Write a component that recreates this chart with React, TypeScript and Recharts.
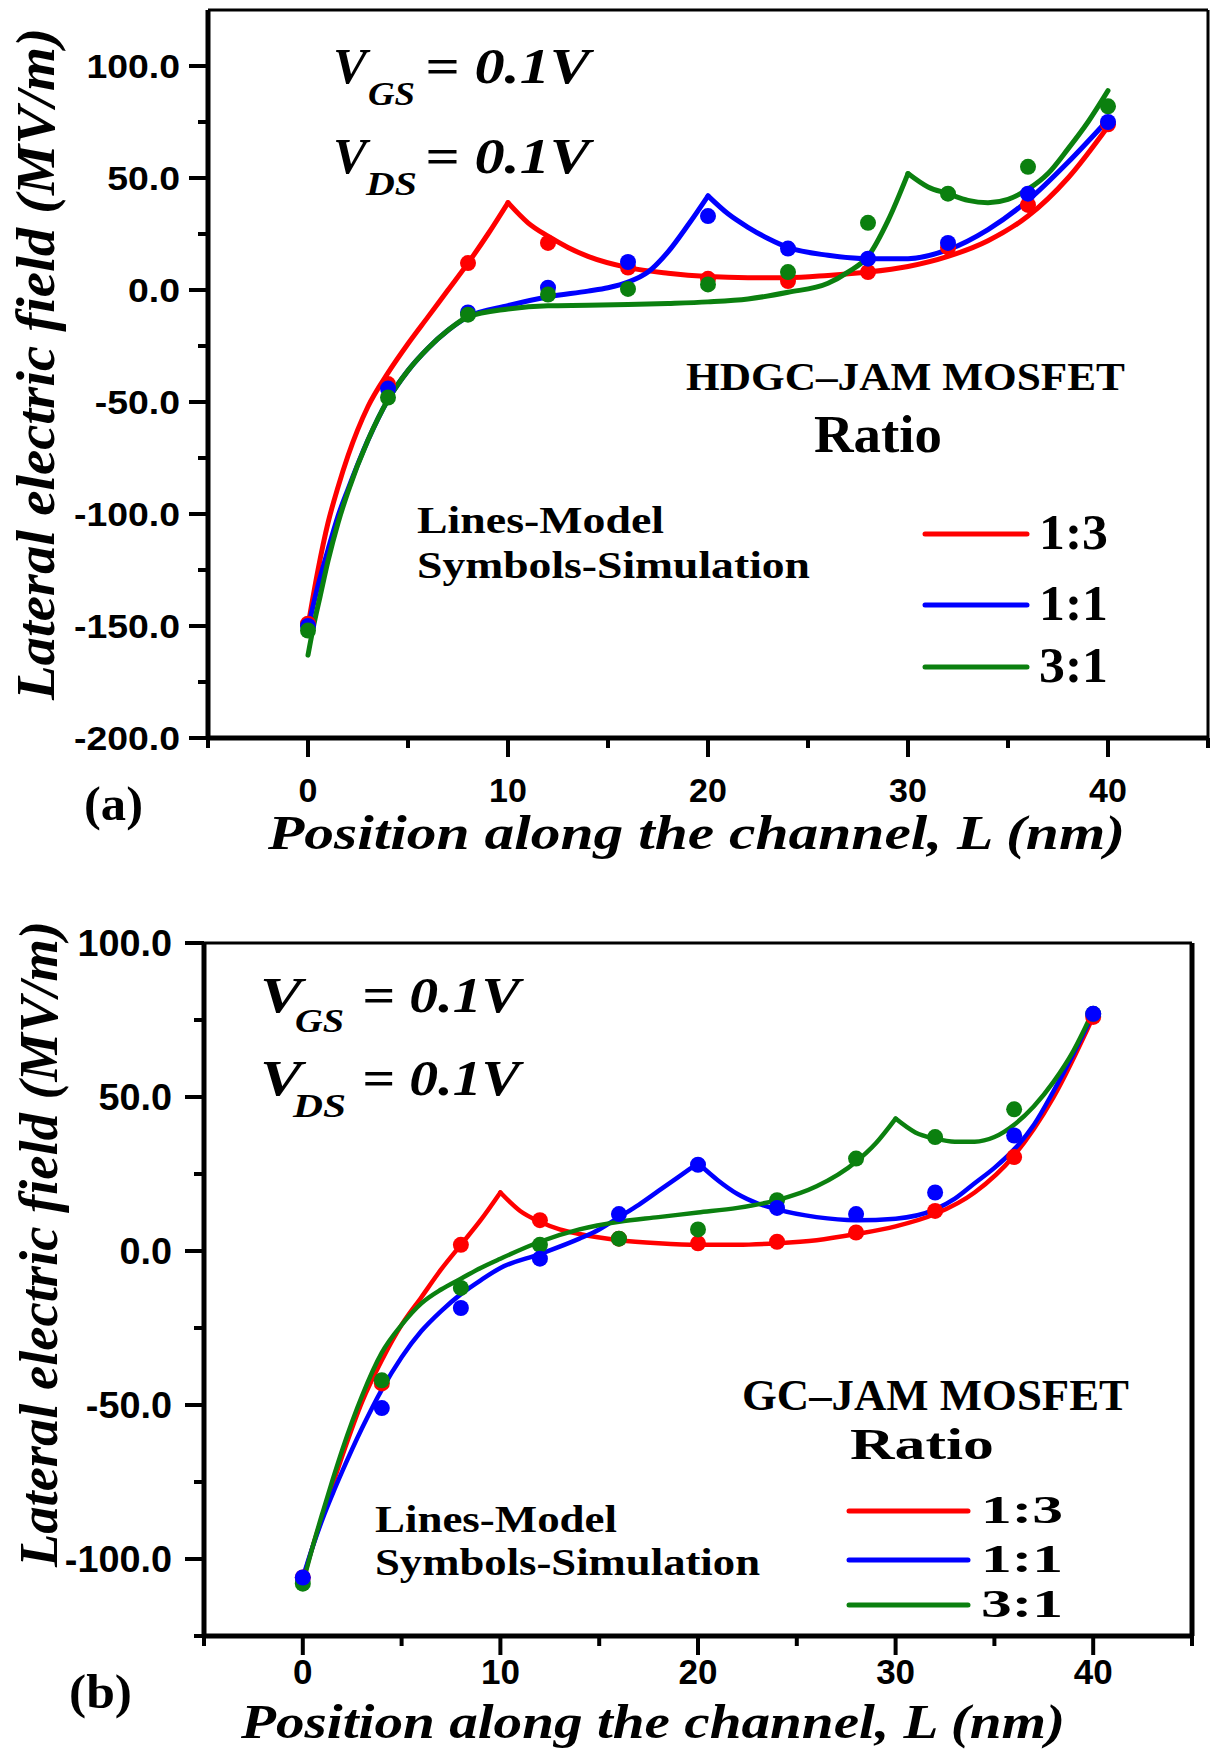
import React from "react";
import {
  ComposedChart,
  Line,
  Scatter,
  XAxis,
  YAxis,
  ReferenceLine,
  Customized,
} from "recharts";

const SERIF = '"Liberation Serif", "Times New Roman", serif';
const SANS = '"Liberation Sans", Arial, sans-serif';

const RED = "#ff0000";
const BLUE = "#0000ff";
const GREEN = "#0b800f";

type Pt = [number, number];

// ---- shared x values ----
const xTicks = [-5, 0, 5, 10, 15, 20, 25, 30, 35, 40, 45];
const simX = [0, 4, 8, 12, 16, 20, 24, 28, 32, 36, 40];

// ---- panel (a): HDGC-JAM MOSFET ----
const yTicksA = [-200, -175, -150, -125, -100, -75, -50, -25, 0, 25, 50, 75, 100];

// model lines (split at the cusp so the peak stays sharp)
const redRiseA: Pt[] = [[0, -150], [0.5, -125], [1, -104], [1.5, -88], [2, -74], [3, -52], [4, -37], [5, -24], [6, -12], [7, 0], [8, 12], [9, 25], [10, 39]];
const redFallA: Pt[] = [[10, 39], [11, 30], [12, 24], [13, 19], [14, 15], [16, 10], [18, 7.5], [20, 6], [22, 5.5], [24, 5.5], [26, 6.5], [28, 8], [30, 10.5], [32, 15], [34, 22], [36, 33], [38, 50], [40, 73]];
const blueRiseA: Pt[] = [[0, -151], [0.5, -132], [1, -116], [1.5, -101], [2, -89], [3, -67], [4, -49], [5, -36], [6, -26], [7, -18], [8, -12], [10, -7], [12, -3], [14, -0.5], [15, 1], [16, 3.5], [17, 8], [18, 17], [19, 29], [20, 42]];
const blueFallA: Pt[] = [[20, 42], [21, 34], [22, 28], [23, 23], [24, 19], [26, 15.5], [28, 14], [30, 14], [32, 18], [34, 27], [36, 40], [38, 57], [40, 76]];
const greenRiseA: Pt[] = [[0, -163], [0.3, -149], [0.6, -137], [1, -121], [1.5, -104], [2, -90], [3, -67], [4, -49], [5, -36], [6, -26], [7, -18], [8, -12], [10, -8.5], [12, -7], [14, -6.8], [16, -6.5], [18, -6], [20, -5.3], [22, -4], [24, -1], [26, 3], [27, 8], [28, 15], [29, 31], [30, 52]];
const greenFallA: Pt[] = [[30, 52], [31, 46], [32, 43], [33, 40], [34, 39], [35, 40.5], [36, 45], [37, 52], [38, 63], [39, 75], [40, 89]];

// simulation symbols
const redSimA = [-149, -42, 12, 21, 10, 5, 4, 8, 19, 38, 74];
const blueSimA = [-150, -44, -10, 1, 12.5, 33, 18.5, 14, 21, 43, 75];
const greenSimA = [-152, -48, -11, -2, 0.5, 2.5, 8, 30, 43, 55, 82];

// ---- panel (b): GC-JAM MOSFET ----
const yTicksB = [-125, -100, -75, -50, -25, 0, 25, 50, 75, 100];

const redRiseB: Pt[] = [[0, -107], [0.5, -96], [1, -86], [1.5, -76], [2, -66.5], [3, -49], [4, -35.5], [5, -24], [6, -15], [7, -6], [8, 2], [9, 10], [10, 19]];
const redFallB: Pt[] = [[10, 19], [11, 13], [12, 9.5], [13, 7], [14, 5.5], [16, 3.5], [18, 2.5], [20, 2], [22, 2], [24, 2.5], [26, 3.5], [28, 5.5], [30, 8], [32, 12], [34, 19], [36, 31], [38, 50], [40, 76]];
const blueRiseB: Pt[] = [[0, -106], [0.5, -96], [1, -87], [1.5, -79], [2, -71.5], [3, -57.5], [4, -45], [5, -34.5], [6, -26], [7, -19.5], [8, -14], [9, -9.5], [10, -5.5], [12, -1], [14, 4], [15, 7], [16, 11], [17, 15], [18, 19.5], [19, 24], [20, 28.5]];
const blueFallB: Pt[] = [[20, 28.5], [21, 23], [22, 18.5], [23, 15.5], [24, 13.5], [26, 11], [28, 10], [30, 10.5], [32, 13.5], [33, 17], [34, 22], [35, 27], [36, 33], [37, 41], [38, 52], [39, 64], [40, 77]];
const greenRiseB: Pt[] = [[0, -108], [0.5, -96], [1, -85], [1.5, -74.5], [2, -64.5], [3, -47], [4, -33], [5, -24], [6, -17], [7, -12.5], [8, -9], [9, -5.5], [10, -2.5], [12, 3], [14, 7], [16, 9.5], [18, 11], [20, 12.5], [22, 14], [24, 16.5], [26, 21], [28, 29], [29, 35], [30, 43]];
const greenFallB: Pt[] = [[30, 43], [31, 38.5], [32, 36.5], [33, 35.5], [34, 35.5], [35, 37], [36, 41], [37, 47], [38, 55], [39, 65], [40, 78]];

const redSimB = [-106, -43, 2, 10, 4, 2.5, 3, 6, 13, 30.5, 76];
const blueSimB = [-106, -51, -18.5, -2.5, 12, 28, 14, 12, 19, 37.5, 77];
const greenSimB = [-108, -42, -12, 2, 4, 7, 16.5, 30, 37, 46, 77];

const legendLabels = ["1:3", "1:1", "3:1"];
const legendColors = [RED, BLUE, GREEN];

const rows = (pts: Pt[]) => pts.map(([x, y]) => ({ x, y }));
const simRows = (ys: number[]) => simX.map((x, i) => ({ x, y: ys[i] }));

// bold text squeezed/stretched to the measured width
function Txt({ x, y, w, size, italic = false, family = SERIF, children }: any) {
  return (
    <text
      x={x}
      y={y}
      fontSize={size}
      fontFamily={family}
      fontWeight="bold"
      fontStyle={italic ? "italic" : "normal"}
      textLength={w}
      lengthAdjust="spacingAndGlyphs"
      fill="#000"
    >
      {children}
    </text>
  );
}

function makeXTick(labelDy: number, fontSize: number) {
  return (props: any) => {
    const { x, y, payload } = props;
    const v = payload.value;
    const major = v % 10 === 0;
    return (
      <g>
        <line x1={x} x2={x} y1={y} y2={y + (major ? 19 : 10)} stroke="#000" strokeWidth={4} />
        {major && (
          <text
            x={x}
            y={y + labelDy}
            textAnchor="middle"
            fontFamily={SANS}
            fontWeight="bold"
            fontSize={fontSize}
            fill="#000"
          >
            {v}
          </text>
        )}
      </g>
    );
  };
}

function makeYTick(gap: number, fontSize: number, sx: number) {
  return (props: any) => {
    const { x, y, payload } = props;
    const v = payload.value;
    const major = v % 50 === 0;
    return (
      <g>
        <line x1={x} x2={x - (major ? 19 : 10)} y1={y} y2={y} stroke="#000" strokeWidth={4} />
        {major && (
          <text
            transform={`translate(${x - gap},${y}) scale(${sx},1)`}
            dy="0.36em"
            textAnchor="end"
            fontFamily={SANS}
            fontWeight="bold"
            fontSize={fontSize}
            fill="#000"
          >
            {v.toFixed(1)}
          </text>
        )}
      </g>
    );
  };
}

function Panel(p: any) {
  return (
    <div style={{ position: "absolute", left: 0, top: p.top, width: 1210, height: p.height }}>
      <ComposedChart width={1210} height={p.height} margin={p.margin}>
        <XAxis
          type="number"
          dataKey="x"
          domain={[-5, 45]}
          ticks={xTicks}
          interval={0}
          allowDataOverflow
          height={p.xAxisHeight}
          tickSize={0}
          tickMargin={0}
          tickLine={false}
          axisLine={{ stroke: "#000", strokeWidth: 5 }}
          tick={makeXTick(p.xLabelDy, p.xFont)}
        />
        <YAxis
          type="number"
          dataKey="y"
          domain={p.yDomain}
          ticks={p.yTicks}
          interval={0}
          allowDataOverflow
          width={p.yAxisWidth}
          tickSize={0}
          tickMargin={0}
          tickLine={false}
          axisLine={{ stroke: "#000", strokeWidth: 5 }}
          tick={makeYTick(p.yLabelGap, p.yFont, p.yScale)}
        />
        <ReferenceLine y={p.yDomain[1]} stroke="#000" strokeWidth={p.topWidth} />
        <ReferenceLine x={45} stroke="#000" strokeWidth={p.rightWidth} />
        {p.lines.map((l: any, i: number) => (
          <Line
            key={"l" + i}
            data={rows(l.pts)}
            dataKey="y"
            type="monotone"
            stroke={l.color}
            strokeWidth={p.lineWidth}
            strokeLinecap="round"
            strokeLinejoin="round"
            dot={false}
            activeDot={false}
            isAnimationActive={false}
          />
        ))}
        {p.sims.map((s: any, i: number) => (
          <Scatter
            key={"s" + i}
            data={simRows(s.ys)}
            dataKey="y"
            fill={s.color}
            isAnimationActive={false}
            shape={(d: any) => <circle cx={d.cx} cy={d.cy} r={8} fill={s.color} />}
          />
        ))}
        <Customized component={() => p.overlay} />
      </ComposedChart>
    </div>
  );
}

function LegendRows({ x1, x2, ys, labelX, labelW, size, dy }: any) {
  return (
    <g>
      {legendLabels.map((lab, i) => (
        <g key={lab}>
          <line x1={x1} x2={x2} y1={ys[i]} y2={ys[i]} stroke={legendColors[i]} strokeWidth={5} strokeLinecap="round" />
          <Txt x={labelX} y={ys[i] + dy} w={labelW} size={size}>
            {lab}
          </Txt>
        </g>
      ))}
    </g>
  );
}

const overlayA = (
  <g>
    <Txt x={333} y={83} w={34} size={50} italic>V</Txt>
    <Txt x={368} y={105} w={47} size={33} italic>GS</Txt>
    <Txt x={425} y={83} w={165} size={50} italic>= 0.1V</Txt>
    <Txt x={333} y={173} w={34} size={50} italic>V</Txt>
    <Txt x={366} y={195} w={51} size={33} italic>DS</Txt>
    <Txt x={425} y={173} w={165} size={50} italic>= 0.1V</Txt>
    <Txt x={686} y={390} w={439} size={41}>HDGC–JAM MOSFET</Txt>
    <Txt x={814} y={452} w={128} size={53}>Ratio</Txt>
    <Txt x={417} y={533} w={247} size={38}>Lines-Model</Txt>
    <Txt x={417} y={578} w={393} size={38}>Symbols-Simulation</Txt>
    <LegendRows x1={925} x2={1027} ys={[534, 605, 667]} labelX={1039} labelW={69} size={50} dy={15} />
    <Txt x={84} y={820} w={59} size={48}>(a)</Txt>
    <Txt x={268} y={849} w={857} size={48} italic>Position along the channel, L (nm)</Txt>
    <text
      transform="translate(54,364) rotate(-90)"
      textAnchor="middle"
      fontSize={55}
      fontFamily={SERIF}
      fontWeight="bold"
      fontStyle="italic"
      textLength={672}
      lengthAdjust="spacingAndGlyphs"
      fill="#000"
    >
      Lateral electric field (MV/m)
    </text>
  </g>
);

const OB = 870; // top of panel (b) in page coordinates

const overlayB = (
  <g transform={`translate(0,${-OB})`}>
    <Txt x={260} y={1012} w={42} size={50} italic>V</Txt>
    <Txt x={295} y={1032} w={49} size={33} italic>GS</Txt>
    <Txt x={362} y={1012} w={158} size={50} italic>= 0.1V</Txt>
    <Txt x={260} y={1095} w={42} size={50} italic>V</Txt>
    <Txt x={293} y={1117} w={53} size={33} italic>DS</Txt>
    <Txt x={362} y={1095} w={158} size={50} italic>= 0.1V</Txt>
    <Txt x={742} y={1410} w={387} size={45}>GC–JAM MOSFET</Txt>
    <Txt x={850} y={1459} w={144} size={45}>Ratio</Txt>
    <Txt x={375} y={1532} w={242} size={38}>Lines-Model</Txt>
    <Txt x={375} y={1575} w={385} size={38}>Symbols-Simulation</Txt>
    <LegendRows x1={849} x2={968} ys={[1511, 1560, 1605]} labelX={981} labelW={82} size={40} dy={12} />
    <Txt x={69} y={1708} w={63} size={48}>(b)</Txt>
    <Txt x={241} y={1738} w={824} size={48} italic>Position along the channel, L (nm)</Txt>
    <text
      transform="translate(57,1244) rotate(-90)"
      textAnchor="middle"
      fontSize={55}
      fontFamily={SERIF}
      fontWeight="bold"
      fontStyle="italic"
      textLength={646}
      lengthAdjust="spacingAndGlyphs"
      fill="#000"
    >
      Lateral electric field (MV/m)
    </text>
  </g>
);

export default function App() {
  return (
    <div style={{ position: "absolute", left: 0, top: 0, width: 1210, height: 1753, background: "#fff" }}>
      <Panel
        top={0}
        height={870}
        margin={{ top: 10, right: 2, bottom: 0, left: 0 }}
        yAxisWidth={208}
        xAxisHeight={132}
        yDomain={[-200, 125]}
        yTicks={yTicksA}
        xLabelDy={64}
        xFont={34}
        yLabelGap={28}
        yFont={34}
        yScale={1.1}
        topWidth={3}
        rightWidth={3}
        lineWidth={5}
        lines={[
          { pts: redRiseA, color: RED },
          { pts: redFallA, color: RED },
          { pts: blueRiseA, color: BLUE },
          { pts: blueFallA, color: BLUE },
          { pts: greenRiseA, color: GREEN },
          { pts: greenFallA, color: GREEN },
        ]}
        sims={[
          { ys: redSimA, color: RED },
          { ys: blueSimA, color: BLUE },
          { ys: greenSimA, color: GREEN },
        ]}
        overlay={overlayA}
      />
      <Panel
        top={OB}
        height={883}
        margin={{ top: 73, right: 18, bottom: 0, left: 0 }}
        yAxisWidth={204}
        xAxisHeight={117}
        yDomain={[-125, 100]}
        yTicks={yTicksB}
        xLabelDy={48}
        xFont={35}
        yLabelGap={32}
        yFont={36}
        yScale={1.05}
        topWidth={3}
        rightWidth={5}
        lineWidth={4.5}
        lines={[
          { pts: redRiseB, color: RED },
          { pts: redFallB, color: RED },
          { pts: blueRiseB, color: BLUE },
          { pts: blueFallB, color: BLUE },
          { pts: greenRiseB, color: GREEN },
          { pts: greenFallB, color: GREEN },
        ]}
        sims={[
          { ys: redSimB, color: RED },
          { ys: greenSimB, color: GREEN },
          { ys: blueSimB, color: BLUE },
        ]}
        overlay={overlayB}
      />
    </div>
  );
}
